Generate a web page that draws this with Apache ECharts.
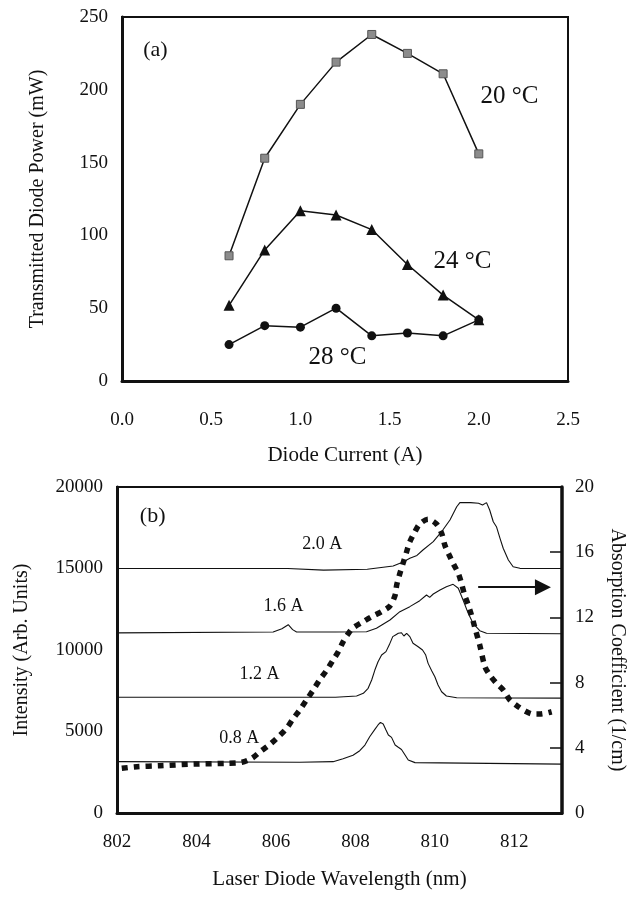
<!DOCTYPE html>
<html>
<head>
<meta charset="utf-8">
<script src="https://cdn.jsdelivr.net/npm/echarts@6/dist/echarts.min.js"></script>
<style>
html,body{margin:0;padding:0;background:#fff;}
#chart{width:628px;height:898px;}
</style>
</head>
<body>
<div id="chart"></div>
<script>
// ---------- Panel (a) data ----------
var currentA = [0.6, 0.8, 1.0, 1.2, 1.4, 1.6, 1.8, 2.0];
var power20C = [86, 153, 190, 219, 238, 225, 211, 156];
var power24C = [52, 90, 117, 114, 104, 80, 59, 42];
var power28C = [25, 38, 37, 50, 31, 33, 31, 42];
var xTicksA = [0, 0.5, 1.0, 1.5, 2.0, 2.5];
var yTicksA = [0, 50, 100, 150, 200, 250];

// ---------- Panel (b) data ----------
var wl20A = [802, 806.3, 807.2, 808.3, 808.95, 809.2, 809.37, 809.55, 809.7, 809.96, 810.2, 810.38, 810.55, 810.63, 810.9, 811.1, 811.2, 811.3, 811.38, 811.47, 811.55, 811.64, 811.72, 811.85, 811.97, 812.14, 813.2];
var int20A = [15000, 15000, 14900, 14950, 15150, 15400, 15625, 15800, 16135, 16650, 17360, 17975, 18790, 19040, 19040, 19000, 18900, 19040, 18590, 17870, 17565, 16850, 16240, 15520, 15110, 15010, 15000];

var wl16A = [802, 805.93, 806.15, 806.31, 806.42, 806.52, 807.5, 808.28, 808.53, 808.87, 809.12, 809.37, 809.62, 809.79, 809.87, 809.96, 810.13, 810.29, 810.46, 810.59, 810.71, 810.84, 810.96, 811.13, 811.3, 813.2];
var int16A = [11050, 11100, 11300, 11550, 11250, 11100, 11100, 11120, 11330, 11840, 12350, 12660, 13025, 13375, 13230, 13435, 13680, 13885, 14030, 13785, 13070, 12250, 11640, 11185, 11025, 11000];

var wl12A = [802, 807.5, 808.03, 808.2, 808.32, 808.41, 808.49, 808.57, 808.66, 808.77, 808.85, 808.94, 809.02, 809.08, 809.16, 809.22, 809.29, 809.37, 809.45, 809.58, 809.69, 809.77, 809.83, 809.92, 810.0, 810.08, 810.17, 810.29, 810.55, 813.2];
var int12A = [7100, 7100, 7180, 7340, 7650, 8160, 8770, 9280, 9690, 9900, 10300, 10820, 10940, 11025, 11060, 10860, 11025, 10820, 10410, 10200, 10000, 9690, 9180, 8730, 8360, 7850, 7440, 7180, 7075, 7050];

var wl08A = [802, 806.6, 807.44, 807.69, 807.94, 808.11, 808.24, 808.36, 808.49, 808.57, 808.63, 808.7, 808.77, 808.83, 808.91, 809.0, 809.08, 809.16, 809.25, 809.33, 809.5, 813.2];
var int08A = [3150, 3110, 3150, 3330, 3540, 3820, 4170, 4680, 5130, 5400, 5560, 5460, 5090, 4785, 4640, 4170, 4030, 3900, 3560, 3250, 3090, 3000];

var absWl = [802.12, 802.5, 803.08, 803.92, 804.76, 805.14, 805.39, 805.6, 805.85, 806.06, 806.27, 806.44, 806.6, 806.77, 806.94, 807.1, 807.28, 807.44, 807.57, 807.69, 807.82, 807.94, 808.2, 808.41, 808.66, 808.87, 809.0, 809.04, 809.12, 809.2, 809.29, 809.37, 809.5, 809.62, 809.83, 810.04, 810.17, 810.25, 810.36, 810.46, 810.59, 810.67, 810.75, 810.84, 810.92, 811.0, 811.13, 811.26, 811.38, 811.55, 811.72, 811.89, 812.1, 812.31, 812.47, 812.64, 812.94];
var absCoef = [2.74, 2.84, 2.9, 3.0, 3.05, 3.11, 3.35, 3.76, 4.21, 4.68, 5.2, 5.81, 6.32, 6.93, 7.55, 8.16, 8.77, 9.39, 9.9, 10.5, 11.0, 11.35, 11.74, 12.04, 12.35, 12.7, 13.37, 13.99, 14.7, 15.32, 16.03, 16.64, 17.26, 17.73, 18.02, 17.73, 17.16, 16.44, 15.83, 15.32, 14.7, 14.09, 13.37, 12.76, 12.15, 11.43, 10.3, 8.98, 8.47, 7.96, 7.55, 6.93, 6.52, 6.21, 6.07, 6.07, 6.21];

// annotation texts and anchor positions (data coordinates)
var labelsA = [
  {name: '(a)', value: [0.19, 227], size: 22},
  {name: '20 \u00B0C', value: [2.175, 195], size: 25},
  {name: '24 \u00B0C', value: [1.911, 82], size: 25},
  {name: '28 \u00B0C', value: [1.211, 16], size: 25}
];
var labelsB = [
  {name: '(b)', value: [802.91, 18160], size: 22},
  {name: '2.0 A', value: [807.18, 16440], size: 18},
  {name: '1.6 A', value: [806.2, 12640], size: 18},
  {name: '1.2 A', value: [805.6, 8470], size: 18},
  {name: '0.8 A', value: [805.09, 4540], size: 18}
];
var arrowB = {from: [811.09, 13.85], to: [812.72, 13.85]};

function zip(xs, ys) { return xs.map(function (x, i) { return [x, ys[i]]; }); }

var FONT = 'Liberation Serif';
var INK = '#111';

function labelSeries(list, xi, yi) {
  return {
    type: 'scatter', xAxisIndex: xi, yAxisIndex: yi, symbolSize: 1, silent: true,
    itemStyle: {color: 'rgba(0,0,0,0)'},
    data: list.map(function (d) {
      return {name: d.name, value: d.value,
        label: {show: true, position: [0, 0], align: 'center', verticalAlign: 'middle',
          formatter: d.name, fontFamily: FONT, fontSize: d.size, color: INK,
          textBorderWidth: 0, textBorderColor: 'transparent', opacity: 1}};
    })
  };
}

var chart = echarts.init(document.getElementById('chart'), null, {renderer: 'canvas'});
var baseAxisText = {fontFamily: FONT, fontSize: 19, color: INK};

var option = {
  animation: false,
  backgroundColor: '#fff',
  grid: [
    {left: 122, top: 17, right: 60, height: 364, show: true, borderColor: INK, borderWidth: 2, outerBoundsMode: 'none', containLabel: false},
    {left: 117, top: 487, right: 66, height: 326, show: true, borderColor: INK, borderWidth: 2, outerBoundsMode: 'none', containLabel: false}
  ],
  xAxis: [
    {gridIndex: 0, type: 'value', min: xTicksA[0], max: xTicksA[xTicksA.length - 1], interval: 0.5,
      axisLine: {show: true, onZero: false, lineStyle: {color: INK, width: 3}},
      axisTick: {show: false}, splitLine: {show: false},
      axisLabel: Object.assign({margin: 30, formatter: function (v) { return v.toFixed(1); }}, baseAxisText),
      name: 'Diode Current (A)', nameLocation: 'middle', nameGap: 64,
      nameTextStyle: {fontFamily: FONT, fontSize: 21, color: INK}},
    {gridIndex: 1, type: 'value', min: 802, max: 813.2, interval: 2,
      axisLine: {show: true, onZero: false, lineStyle: {color: INK, width: 3}},
      axisTick: {show: false}, splitLine: {show: false},
      axisLabel: Object.assign({margin: 20, showMaxLabel: false, formatter: function (v) { return (Math.abs(v % 2) < 1e-6) ? String(v) : ''; }}, baseAxisText),
      name: 'Laser Diode Wavelength (nm)', nameLocation: 'middle', nameGap: 56,
      nameTextStyle: {fontFamily: FONT, fontSize: 21, color: INK}}
  ],
  yAxis: [
    {gridIndex: 0, type: 'value', min: yTicksA[0], max: yTicksA[yTicksA.length - 1], interval: 50,
      axisLine: {show: true, onZero: false, lineStyle: {color: INK, width: 3}},
      axisTick: {show: false}, splitLine: {show: false},
      axisLabel: Object.assign({margin: 14, formatter: function (v) { return String(v); }}, baseAxisText),
      name: 'Transmitted Diode Power (mW)', nameLocation: 'middle', nameGap: 74,
      nameTextStyle: {fontFamily: FONT, fontSize: 20, color: INK}},
    {gridIndex: 1, type: 'value', min: 0, max: 20000, interval: 5000,
      axisLine: {show: true, onZero: false, lineStyle: {color: INK, width: 3}},
      axisTick: {show: false}, splitLine: {show: false},
      axisLabel: Object.assign({margin: 14, formatter: function (v) { return String(v); }}, baseAxisText),
      name: 'Intensity (Arb. Units)', nameLocation: 'middle', nameGap: 85,
      nameTextStyle: {fontFamily: FONT, fontSize: 20, color: INK}},
    {gridIndex: 1, type: 'value', position: 'right', min: 0, max: 20, interval: 4,
      axisLine: {show: true, onZero: false, lineStyle: {color: INK, width: 3.5}},
      axisTick: {show: true, inside: true, length: 12, lineStyle: {color: INK, width: 1.5}},
      splitLine: {show: false},
      axisLabel: Object.assign({margin: 13, formatter: function (v) { return String(v); }}, baseAxisText),
      name: 'Absorption Coefficient (1/cm)', nameLocation: 'middle', nameGap: 45, nameRotate: -90,
      nameTextStyle: {fontFamily: FONT, fontSize: 20, color: INK}}
  ],
  series: [
    {name: '20 °C', type: 'line', xAxisIndex: 0, yAxisIndex: 0, data: zip(currentA, power20C),
      symbol: 'rect', symbolSize: 8, itemStyle: {color: '#8c8c8c', borderColor: '#555', borderWidth: 1},
      lineStyle: {color: INK, width: 1.5}},
    {name: '24 °C', type: 'line', xAxisIndex: 0, yAxisIndex: 0, data: zip(currentA, power24C),
      symbol: 'triangle', symbolSize: 11, itemStyle: {color: INK},
      lineStyle: {color: INK, width: 1.5}},
    {name: '28 °C', type: 'line', xAxisIndex: 0, yAxisIndex: 0, data: zip(currentA, power28C),
      symbol: 'circle', symbolSize: 9, itemStyle: {color: INK},
      lineStyle: {color: INK, width: 1.5}},
    {name: '2.0 A', type: 'line', xAxisIndex: 1, yAxisIndex: 1, data: zip(wl20A, int20A),
      showSymbol: false, symbol: 'none', lineStyle: {color: INK, width: 1.1}},
    {name: '1.6 A', type: 'line', xAxisIndex: 1, yAxisIndex: 1, data: zip(wl16A, int16A),
      showSymbol: false, symbol: 'none', lineStyle: {color: INK, width: 1.1}},
    {name: '1.2 A', type: 'line', xAxisIndex: 1, yAxisIndex: 1, data: zip(wl12A, int12A),
      showSymbol: false, symbol: 'none', lineStyle: {color: INK, width: 1.1}},
    {name: '0.8 A', type: 'line', xAxisIndex: 1, yAxisIndex: 1, data: zip(wl08A, int08A),
      showSymbol: false, symbol: 'none', lineStyle: {color: INK, width: 1.1}},
    {name: 'Absorption', type: 'line', xAxisIndex: 1, yAxisIndex: 2, data: zip(absWl, absCoef),
      showSymbol: false, symbol: 'none', smooth: 0.3,
      lineStyle: {color: INK, width: 5.5, type: [6, 6], cap: 'butt'},
      markLine: {silent: true, symbol: ['none', 'triangle'], symbolSize: [16, 16],
        lineStyle: {color: INK, width: 2, type: 'solid'}, label: {show: false},
        data: [[{coord: arrowB.from}, {coord: arrowB.to}]]}},
    labelSeries(labelsA, 0, 0),
    labelSeries(labelsB, 1, 1)
  ]
};
chart.setOption(option);
</script>
</body>
</html>
